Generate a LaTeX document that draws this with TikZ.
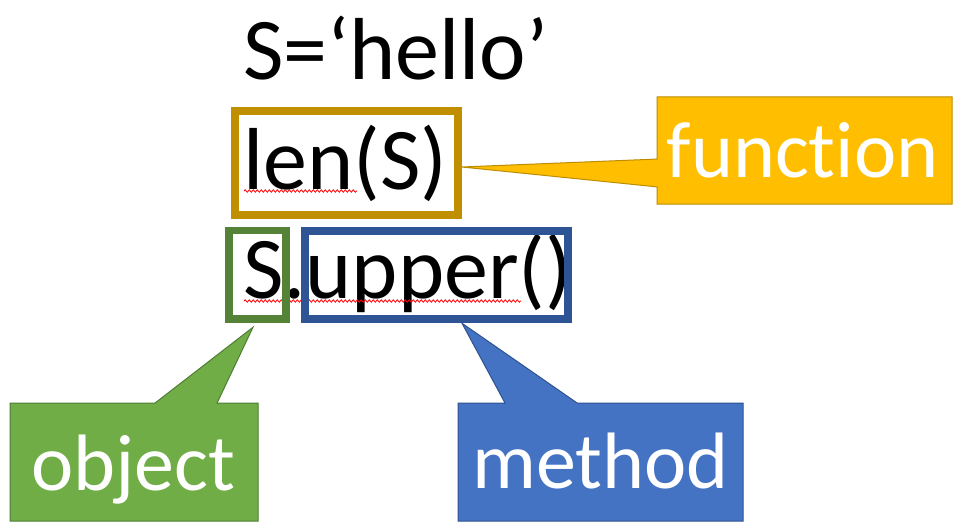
\documentclass[tikz,border=0pt]{standalone}
\usepackage{fontspec}
\setmainfont{Carlito}
\usepackage{tikz}
\usetikzlibrary{calc,decorations.pathmorphing}
\definecolor{dgold}{rgb}{0.75,0.56,0}
\definecolor{dgreen}{rgb}{0.33,0.51,0.21}
\definecolor{dblue}{rgb}{0.18,0.33,0.59}
\definecolor{fgold}{rgb}{1,0.75,0}
\definecolor{fgoldline}{rgb}{0.74,0.55,0}
\definecolor{fgreen}{rgb}{0.44,0.68,0.28}
\definecolor{fgreenline}{rgb}{0.31,0.49,0.2}
\definecolor{fblue}{rgb}{0.27,0.45,0.77}
\definecolor{fblueline}{rgb}{0.18,0.32,0.56}

\begin{document}
\begin{tikzpicture}[x=1pt, y=-1pt,
		code/.style={anchor=base west, inner sep=0pt, font=\fontsize{88}{100}\selectfont},
		codebox/.style={draw, line width=7.5pt, inner sep=0pt},
		callbox/.style={inner sep=0pt, outer sep=0pt},
		callline/.style={line width=1pt},
		calltext/.style={anchor=base, inner sep=0pt, text=white, font=\fontsize{80}{90}\selectfont},
		squiggle/.style={red, line width=0.8pt, decorate, decoration={snake, amplitude=1.2pt, segment length=4pt}}]
			\fill[white] (0,0) rectangle (958,532);
			\useasboundingbox (0,0) rectangle (958,532);
			% the three lines of code
			\node[code] (assign) at (243,80) {S=‘hello’};
			\node[code] (lencall) at (243,189) {len(S)};
			\node[code] (upcall) at (243,298) {S.upper()};
			\draw[squiggle] (244,191) -- (357,191);
			\draw[squiggle] (244,301) -- (521,301);
			% boxes round the parts
			\node[codebox, dgold, minimum width=223, minimum height=104] (lenbox) at (346.5,163) {};
			\node[codebox, dgreen, minimum width=57, minimum height=88.5] (sbox) at (257.5,274.75) {};
			\node[codebox, dblue, minimum width=263, minimum height=88] (ubox) at (436.5,275) {};
			% function
			\node[callbox, minimum width=295, minimum height=107] (fn) at (804.5,150.5) {};
			\coordinate (fntip) at ([yshift=-4pt]lenbox.east);
			\filldraw[callline, fill=fgold, draw=fgoldline] (fn.north west) -- (fn.north east) -- (fn.south east) -- (fn.south west)
				-- ($(fn.north west)!0.84!(fn.south west)$) -- (fntip) -- ($(fn.north west)!0.58!(fn.south west)$) -- cycle;
			\node[calltext] (fntext) at (802.5,177) {funct\kern0pt ion};
			% object
			\node[callbox, minimum width=248, minimum height=118] (obj) at (134,462) {};
			\coordinate (objtip) at ([shift={(-4.5pt,-4.5pt)}]sbox.south);
			\filldraw[callline, fill=fgreen, draw=fgreenline] (obj.south west) -- (obj.north west)
				-- ($(obj.north west)!0.585!(obj.north east)$) -- (objtip) -- ($(obj.north west)!0.835!(obj.north east)$)
				-- (obj.north east) -- (obj.south east) -- cycle;
			\node[calltext] (objtext) at (133,490) {object};
			% method
			\node[callbox, minimum width=285, minimum height=118] (meth) at (600.5,462) {};
			\coordinate (methtip) at ([shift={(25.5pt,-0.5pt)}]ubox.south);
			\filldraw[callline, fill=fblue, draw=fblueline] (meth.south west) -- (meth.north west)
				-- ($(meth.north west)!0.165!(meth.north east)$) -- (methtip) -- ($(meth.north west)!0.418!(meth.north east)$)
				-- (meth.north east) -- (meth.south east) -- cycle;
			\node[calltext] (methtext) at (600.5,488) {method};
		\end{tikzpicture}
\end{document}
